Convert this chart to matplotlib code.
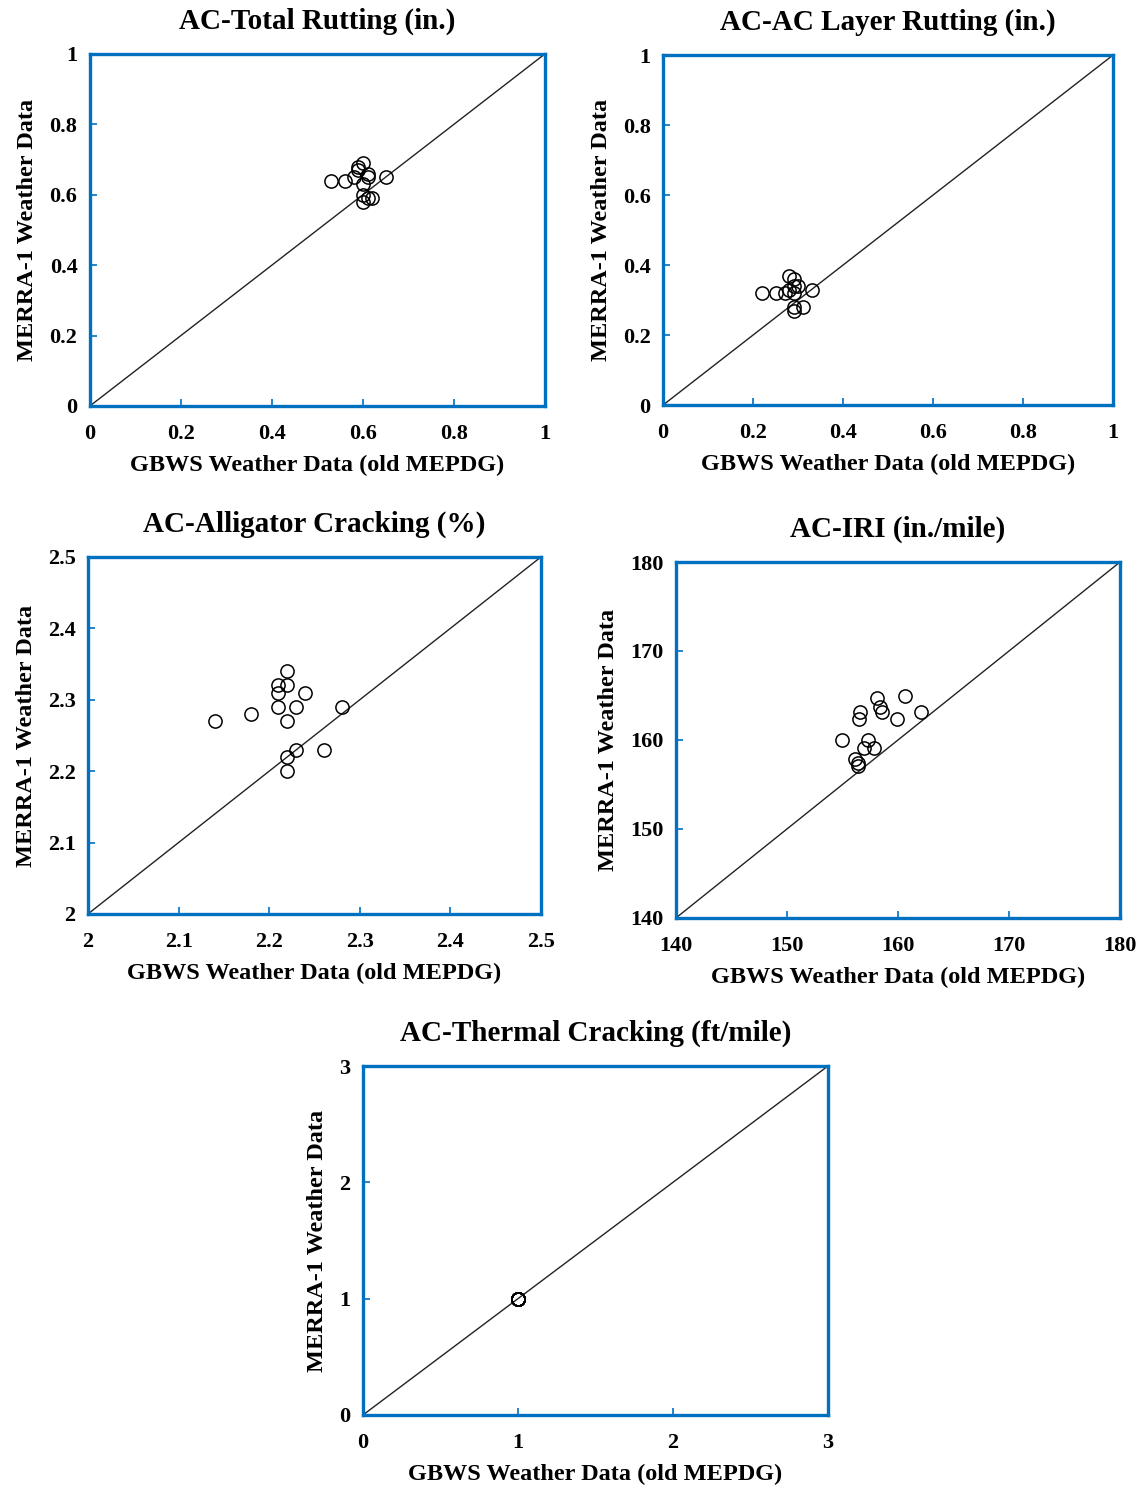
import matplotlib
matplotlib.use("Agg")
import matplotlib.pyplot as plt
from matplotlib.ticker import FuncFormatter

plt.rcParams["font.family"] = "Liberation Serif"
plt.rcParams["font.weight"] = "bold"

# GBWS (old MEPDG) vs MERRA-1 predictions
rut_total_gbws = [0.53, 0.56, 0.58, 0.59, 0.59, 0.60, 0.61, 0.61, 0.60, 0.65, 0.60, 0.60, 0.62, 0.61]
rut_total_merra = [0.64, 0.64, 0.65, 0.67, 0.68, 0.69, 0.66, 0.65, 0.63, 0.65, 0.60, 0.58, 0.59, 0.59]

rut_ac_gbws = [0.22, 0.25, 0.27, 0.28, 0.29, 0.29, 0.28, 0.30, 0.33, 0.29, 0.31, 0.29, 0.29]
rut_ac_merra = [0.32, 0.32, 0.32, 0.37, 0.36, 0.34, 0.33, 0.34, 0.33, 0.27, 0.28, 0.28, 0.32]

alligator_gbws = [2.14, 2.18, 2.22, 2.21, 2.22, 2.21, 2.24, 2.21, 2.23, 2.28, 2.22, 2.23, 2.26, 2.22, 2.22]
alligator_merra = [2.27, 2.28, 2.34, 2.32, 2.32, 2.31, 2.31, 2.29, 2.29, 2.29, 2.27, 2.23, 2.23, 2.22, 2.20]

iri_gbws = [155.0, 158.1, 160.6, 158.4, 158.6, 156.6, 156.5, 159.9, 162.1, 157.3, 156.9, 157.8, 156.1, 156.4, 156.4]
iri_merra = [160.0, 164.7, 164.9, 163.7, 163.1, 163.1, 162.4, 162.4, 163.1, 160.0, 159.1, 159.1, 157.9, 157.4, 157.1]

thermal_gbws = [1.0] * 15
thermal_merra = [1.0] * 15

panels = [
    ("AC-Total Rutting (in.)", rut_total_gbws, rut_total_merra, (0, 1), 0.2,
     [0.0787, 0.7272, 0.3981, 0.2366]),
    ("AC-AC Layer Rutting (in.)", rut_ac_gbws, rut_ac_merra, (0, 1), 0.2,
     [0.5801, 0.7278, 0.3937, 0.2352]),
    ("AC-Alligator Cracking (%)", alligator_gbws, alligator_merra, (2, 2.5), 0.1,
     [0.0770, 0.3858, 0.3963, 0.2399]),
    ("AC-IRI (in./mile)", iri_gbws, iri_merra, (140, 180), 10,
     [0.5914, 0.3831, 0.3885, 0.2392]),
    ("AC-Thermal Cracking (ft/mile)", thermal_gbws, thermal_merra, (0, 3), 1,
     [0.3176, 0.0491, 0.4068, 0.2345]),
]

frame_color = "#0070C0"

fig = plt.figure(figsize=(11.43, 14.88), dpi=100)

for title, x, y, lims, step, pos in panels:
    ax = fig.add_axes(pos)
    lo, hi = lims
    ax.plot([lo, hi], [lo, hi], color="#222222", lw=1.0, zorder=1)
    ax.plot(x, y, "o", mfc="none", mec="black", ms=9.5, mew=1.1, zorder=2)
    ax.set_xlim(lo, hi)
    ax.set_ylim(lo, hi)
    n = int(round((hi - lo) / step))
    ticks = [lo + i * step for i in range(n + 1)]
    ax.set_xticks(ticks)
    ax.set_yticks(ticks)
    fmt = FuncFormatter(lambda v, p: f"{round(v, 6):g}")
    ax.xaxis.set_major_formatter(fmt)
    ax.yaxis.set_major_formatter(fmt)
    ax.tick_params(direction="in", color=frame_color, length=5, width=1.2,
                   labelsize=16, pad=9)
    ax.tick_params(axis="x", pad=13)
    for s in ax.spines.values():
        s.set_color(frame_color)
        s.set_linewidth(2.4)
    ax.set_title(title, fontsize=21, fontweight="bold", pad=18)
    ax.set_xlabel("GBWS Weather Data (old MEPDG)", fontsize=17.5, fontweight="bold", labelpad=8)
    ax.set_ylabel("MERRA-1 Weather Data", fontsize=17.5, fontweight="bold", labelpad=8)

fig.savefig("out.png", dpi=100)
